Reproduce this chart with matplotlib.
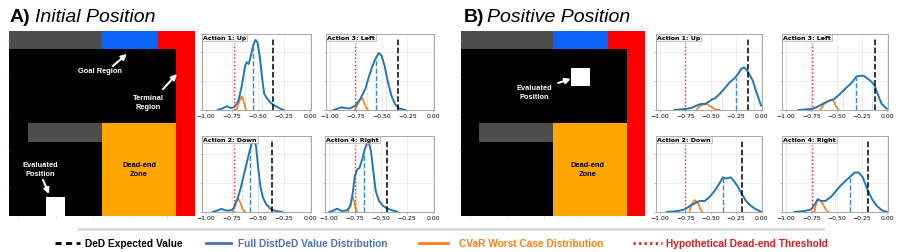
import matplotlib

matplotlib.use("Agg")
import matplotlib.pyplot as plt
import numpy as np
from matplotlib.colors import ListedColormap
from matplotlib.lines import Line2D

W, H = 900, 253

# grid world: 0 floor, 1 wall, 2 goal, 3 terminal, 4 dead-end, 5 evaluated position
MAP_COLORS = ["#000000", "#4d4d4d", "#0a64f5", "#ff0000", "#ffa500", "#ffffff"]
BASE_MAP = [
    [1, 1, 1, 1, 1, 2, 2, 2, 3, 3],
    [0, 0, 0, 0, 0, 0, 0, 0, 0, 3],
    [0, 0, 0, 0, 0, 0, 0, 0, 0, 3],
    [0, 0, 0, 0, 0, 0, 0, 0, 0, 3],
    [0, 0, 0, 0, 0, 0, 0, 0, 0, 3],
    [0, 1, 1, 1, 1, 4, 4, 4, 4, 3],
    [0, 0, 0, 0, 0, 4, 4, 4, 4, 3],
    [0, 0, 0, 0, 0, 4, 4, 4, 4, 3],
    [0, 0, 0, 0, 0, 4, 4, 4, 4, 3],
    [0, 0, 0, 0, 0, 4, 4, 4, 4, 3],
]
AGENT_A = (9, 2)
AGENT_B = (2, 6)

ACTIONS = ["Action 1: Up", "Action 2: Down", "Action 3: Left", "Action 4: Right"]
XTICKS = [-1.0, -0.75, -0.5, -0.25, 0.0]

# A) initial position, value distributions per action (Up, Down, Left, Right)
A_X = [
    [-0.89, -0.844, -0.80, -0.766, -0.73, -0.69, -0.656, -0.625, -0.61, -0.59, -0.57,
     -0.547, -0.525, -0.506, -0.484, -0.46, -0.44, -0.41, -0.375, -0.33, -0.28, -0.25],
    [-0.9375, -0.89, -0.853, -0.81, -0.766, -0.734, -0.70, -0.67, -0.64, -0.61, -0.578,
     -0.556, -0.54, -0.52, -0.5, -0.478, -0.453, -0.42, -0.375, -0.33, -0.266],
    [-0.967, -0.886, -0.853, -0.805, -0.756, -0.707, -0.658, -0.625, -0.593, -0.56,
     -0.528, -0.50, -0.47, -0.437, -0.404, -0.37, -0.332, -0.267],
    [-1.0, -0.968, -0.925, -0.877, -0.828, -0.795, -0.773, -0.753, -0.73, -0.708, -0.682,
     -0.656, -0.633, -0.617, -0.597, -0.575, -0.552, -0.52, -0.48, -0.438, -0.39, -0.34],
]
A_Y = [
    [0, 0.26, 0.65, 0.34, 0.46, 1.56, 4.16, 7.54, 8.19, 7.87, 9.23, 11.05, 12.0, 11.57,
     9.23, 5.33, 2.73, 1.89, 1.17, 0.65, 0.17, 0],
    [0, 0.26, 0.52, 0.26, 0.26, 0.62, 2.15, 3.9, 6.11, 8.32, 10.66, 12.09, 12.35, 11.31,
     7.8, 4.42, 2.47, 1.3, 0.46, 0.17, 0],
    [0, 0.46, 0.34, 0.26, 0.74, 1.89, 3.59, 5.59, 7.28, 8.71, 9.75, 9.3, 7.54, 4.68, 2.47,
     1.04, 0.26, 0],
    [0, 0.17, 0.57, 0.17, 0.29, 1.04, 3.25, 6.11, 7.28, 7.54, 8.97, 10.79, 11.83, 11.83,
     10.4, 7.02, 3.64, 1.89, 1.04, 0.57, 0.29, 0],
]
A_CVAR_X = [
    [-0.71, -0.69, -0.67, -0.656, -0.64, -0.625, -0.615],
    [-0.745, -0.725, -0.705, -0.69, -0.67, -0.65, -0.625],
    [-0.76, -0.73, -0.705, -0.69, -0.67, -0.65, -0.63],
    [-0.82, -0.8, -0.785, -0.773, -0.76, -0.745, -0.73],
]
A_CVAR_Y = [
    [0, 1.04, 1.95, 2.34, 1.56, 0.52, 0],
    [0, 1.3, 2.08, 2.28, 1.56, 0.52, 0],
    [0, 1.04, 1.82, 2.08, 1.3, 0.39, 0],
    [0, 1.04, 2.08, 2.6, 1.82, 0.65, 0],
]
A_DED = [-0.353, -0.37, -0.339, -0.445]
A_THRESHOLD = [-0.735, -0.734, -0.756, -0.753]
A_MEAN_X = [-0.547, -0.578, -0.55, -0.66]
A_MEAN_Y = [11.0, 10.6, 8.6, 10.6]
A_QUANT_X = [[-0.63, -0.46], [-0.656, -0.5], [-0.64, -0.456], [-0.737, -0.578]]
A_QUANT_Y = [[7.3, 5.3], [4.8, 7.8], [4.5, 6.5], [7.2, 7.3]]

# B) positive position
B_X = [
    [-0.86, -0.754, -0.69, -0.64, -0.597, -0.557, -0.525, -0.49, -0.452, -0.41, -0.36,
     -0.31, -0.26, -0.23, -0.197, -0.17, -0.148, -0.115, -0.082, -0.05, -0.016, 0.0],
    [-0.934, -0.82, -0.754, -0.705, -0.656, -0.607, -0.557, -0.508, -0.46, -0.41, -0.377,
     -0.344, -0.3, -0.27, -0.23, -0.19, -0.148, -0.1, -0.05, 0.0],
    [-0.88, -0.75, -0.70, -0.65, -0.588, -0.523, -0.474, -0.425, -0.377, -0.338, -0.305,
     -0.273, -0.23, -0.198, -0.15, -0.123, -0.09, -0.052, 0.0],
    [-0.92, -0.815, -0.75, -0.717, -0.685, -0.652, -0.61, -0.555, -0.505, -0.457, -0.41,
     -0.36, -0.318, -0.28, -0.24, -0.195, -0.147, -0.1, -0.05, 0.0],
]
B_Y = [
    [0, 0.17, 0.34, 0.74, 1.03, 1.03, 1.3, 1.77, 2.05, 2.73, 3.7, 4.73, 5.46, 6.11, 7.02,
     7.28, 7.02, 6.11, 5.02, 3.3, 1.6, 0.74],
    [0, 0.17, 0.46, 1.03, 1.48, 1.89, 1.89, 2.6, 3.6, 4.94, 5.93, 5.72, 5.93, 5.33, 4.37,
     3.07, 1.89, 1.04, 0.46, 0.07],
    [0, 0.17, 0.46, 0.91, 1.47, 1.87, 2.6, 3.46, 4.2, 4.88, 5.72, 5.85, 5.85, 5.46, 4.77,
     4.2, 2.6, 1.03, 0.17],
    [0, 0.17, 0.46, 1.3, 2.17, 1.89, 1.89, 2.6, 3.6, 4.55, 5.33, 6.11, 6.76, 6.76, 5.93,
     3.9, 2.17, 1.04, 0.29, 0],
]
B_CVAR_X = [
    [-0.64, -0.61, -0.58, -0.555, -0.53, -0.5, -0.47, -0.44, -0.41],
    [-0.71, -0.69, -0.656, -0.625, -0.6, -0.58],
    [-0.66, -0.63, -0.59, -0.56, -0.53, -0.505, -0.48],
    [-0.72, -0.7, -0.685, -0.655, -0.625, -0.6, -0.58],
]
B_CVAR_Y = [
    [0, 0.65, 0.91, 0.98, 0.98, 0.65, 0.26, 0.07, 0],
    [0, 1.3, 2.05, 1.56, 0.46, 0],
    [0, 0.91, 1.43, 1.76, 1.56, 0.65, 0],
    [0, 1.56, 2.17, 1.89, 1.04, 0.26, 0],
]
B_DED = [-0.125, -0.187, -0.123, -0.19]
B_THRESHOLD = [-0.748, -0.748, -0.74, -0.743]
B_MEAN_X = [-0.246, -0.377, -0.305, -0.365]
B_MEAN_Y = [5.5, 5.9, 5.7, 5.9]
B_QUANT_X = [[-0.39, -0.07], [-0.525, -0.23], [-0.44, -0.15], [-0.515, -0.205]]
B_QUANT_Y = [[2.9, 4.8], [2.4, 4.4], [3.3, 4.8], [3.5, 4.4]]

BLUE = "#1f77b4"
ORANGE = "#ff7f0e"
RED = "#ff2020"
LEGEND_BLUE = "#4a72b8"
LEGEND_RED = "#e0191f"
SANS = ["Liberation Sans", "DejaVu Sans"]


def px_axes(fig, x0, y0, x1, y1):
    return fig.add_axes([x0 / W, 1 - y1 / H, (x1 - x0) / W, (y1 - y0) / H])


def draw_map(ax, agent):
    grid = np.array(BASE_MAP)
    grid[agent] = 5
    ax.imshow(grid, cmap=ListedColormap(MAP_COLORS), vmin=-0.5, vmax=5.5,
              extent=(0, 10, 10, 0), interpolation="nearest", aspect="auto")
    ax.set_xticks([0.5, 2.5, 4.5, 6.5, 8.5])
    ax.set_yticks([0.5, 2.5, 4.5, 6.5, 8.5])
    ax.tick_params(length=1.5, width=0.5, color="#d0d0d0", labelbottom=False, labelleft=False)
    for spine in ax.spines.values():
        spine.set_visible(False)


def map_label(ax, text, xy, color="white"):
    ax.text(*xy, text, color=color, fontsize=5.4, fontweight="bold", family=SANS,
            ha="center", va="center", linespacing=1.3)


def map_arrow(ax, tail, tip):
    ax.annotate("", xy=tip, xytext=tail,
                arrowprops=dict(arrowstyle="-|>", color="white", lw=1.5, mutation_scale=8,
                                shrinkA=0, shrinkB=0))


def draw_dist(ax, title, x, y, cx, cy, ded, thr, mx, my, qx, qy):
    ax.set_xlim(-1.04, 0.01)
    ax.set_ylim(0, 13)
    ax.set_xticks(XTICKS)
    ax.set_yticks([0, 5, 10])
    ax.grid(True, color="#e6e6e6", lw=0.5)
    ax.set_axisbelow(True)
    ax.tick_params(labelsize=4.4, length=1.5, width=0.4, color="#888888", pad=1,
                   labelleft=False)
    for spine in ax.spines.values():
        spine.set_color("#9a9a9a")
        spine.set_linewidth(0.6)

    ax.vlines(qx, 0, qy, colors="#9ecae1", linestyles=":", lw=0.7)
    ax.plot(cx, cy, color=ORANGE, lw=1.2, zorder=3)
    ax.plot(x, y, color=BLUE, lw=1.4, solid_capstyle="round", zorder=4)
    ax.vlines(mx, 0, my, colors="#3a86c8", linestyles="--", lw=1.0, zorder=5)
    ax.axvline(thr, ymax=0.88, color=RED, ls=":", lw=1.0, zorder=5)
    ax.axvline(ded, ymax=0.95, color="black", ls="--", lw=1.1, zorder=6)
    ax.text(0.012, 0.985, title, transform=ax.transAxes, ha="left", va="top",
            fontsize=4.5, fontweight="bold",
            bbox=dict(boxstyle="square,pad=0.15", fc="#f2f2f2", ec="#9a9a9a", lw=0.4),
            zorder=7)


def draw_panel(fig, boxes, xs, ys, cxs, cys, ded, thr, mxs, mys, qxs, qys):
    for i, box in enumerate(boxes):
        ax = px_axes(fig, *box)
        draw_dist(ax, ACTIONS[i], xs[i], ys[i], cxs[i], cys[i], ded[i], thr[i],
                  mxs[i], mys[i], qxs[i], qys[i])


def main():
    fig = plt.figure(figsize=(W / 100, H / 100), dpi=100)

    # titles
    fig.text(10 / W, 1 - 22 / H, "A)", fontsize=14, fontweight="bold", family=SANS)
    fig.text(35 / W, 1 - 22 / H, "Initial Position", fontsize=14, style="italic", family=SANS)
    fig.text(464 / W, 1 - 22 / H, "B)", fontsize=14, fontweight="bold", family=SANS)
    fig.text(487 / W, 1 - 22 / H, "Positive Position", fontsize=14, style="italic", family=SANS)

    # maps
    ax_a = px_axes(fig, 9, 32, 195, 217)
    draw_map(ax_a, AGENT_A)
    map_label(ax_a, "Goal Region", (4.89, 2.16))
    map_arrow(ax_a, (5.59, 1.89), (6.34, 1.24))
    map_label(ax_a, "Terminal\nRegion", (7.47, 3.84))
    map_arrow(ax_a, (8.28, 3.14), (9.03, 2.32))
    map_label(ax_a, "Evaluated\nPosition", (1.67, 7.46))
    map_arrow(ax_a, (1.83, 8.05), (2.15, 8.81))
    map_label(ax_a, "Dead-end\nZone", (6.99, 7.46), color="black")

    ax_b = px_axes(fig, 461, 32, 645, 217)
    draw_map(ax_b, AGENT_B)
    map_label(ax_b, "Evaluated\nPosition", (3.98, 3.29))
    map_arrow(ax_b, (5.29, 2.81), (5.97, 2.59))
    map_label(ax_b, "Dead-end\nZone", (6.9, 7.46), color="black")

    # order: Up, Down, Left, Right
    boxes_a = [(202, 35, 311, 111), (202, 137, 311, 213), (326, 35, 434, 111), (325, 137, 434, 213)]
    boxes_b = [(656, 35, 762, 111), (656, 137, 762, 213), (782, 35, 888, 111), (782, 137, 888, 213)]
    draw_panel(fig, boxes_a, A_X, A_Y, A_CVAR_X, A_CVAR_Y, A_DED, A_THRESHOLD,
               A_MEAN_X, A_MEAN_Y, A_QUANT_X, A_QUANT_Y)
    draw_panel(fig, boxes_b, B_X, B_Y, B_CVAR_X, B_CVAR_Y, B_DED, B_THRESHOLD,
               B_MEAN_X, B_MEAN_Y, B_QUANT_X, B_QUANT_Y)

    # legend strip
    fig.add_artist(Line2D([78 / W, 823 / W], [1 - 230 / H] * 2, color="#dadada", lw=2))
    yl = 1 - 244 / H
    entries = [
        (55, 80, "DeD Expected Value", "black", "black", (0, (2.2, 1.6)), 85),
        (206, 231, "Full DistDeD Value Distribution", LEGEND_BLUE, LEGEND_BLUE, "-", 238),
        (419, 448, "CVaR Worst Case Distribution", ORANGE, ORANGE, "-", 459),
        (633, 662, "Hypothetical Dead-end Threshold", LEGEND_RED, LEGEND_RED, (0, (0.8, 1.2)), 666),
    ]
    for x0, x1, label, lcolor, tcolor, ls, tx in entries:
        fig.add_artist(Line2D([x0 / W, x1 / W], [yl, yl], color=lcolor, lw=2, ls=ls))
        fig.text(tx / W, yl, label, color=tcolor, fontsize=7.3, fontweight="bold",
                 family=SANS, va="center", ha="left")

    fig.savefig("out.png", dpi=100)
    plt.close(fig)


if __name__ == "__main__":
    main()
